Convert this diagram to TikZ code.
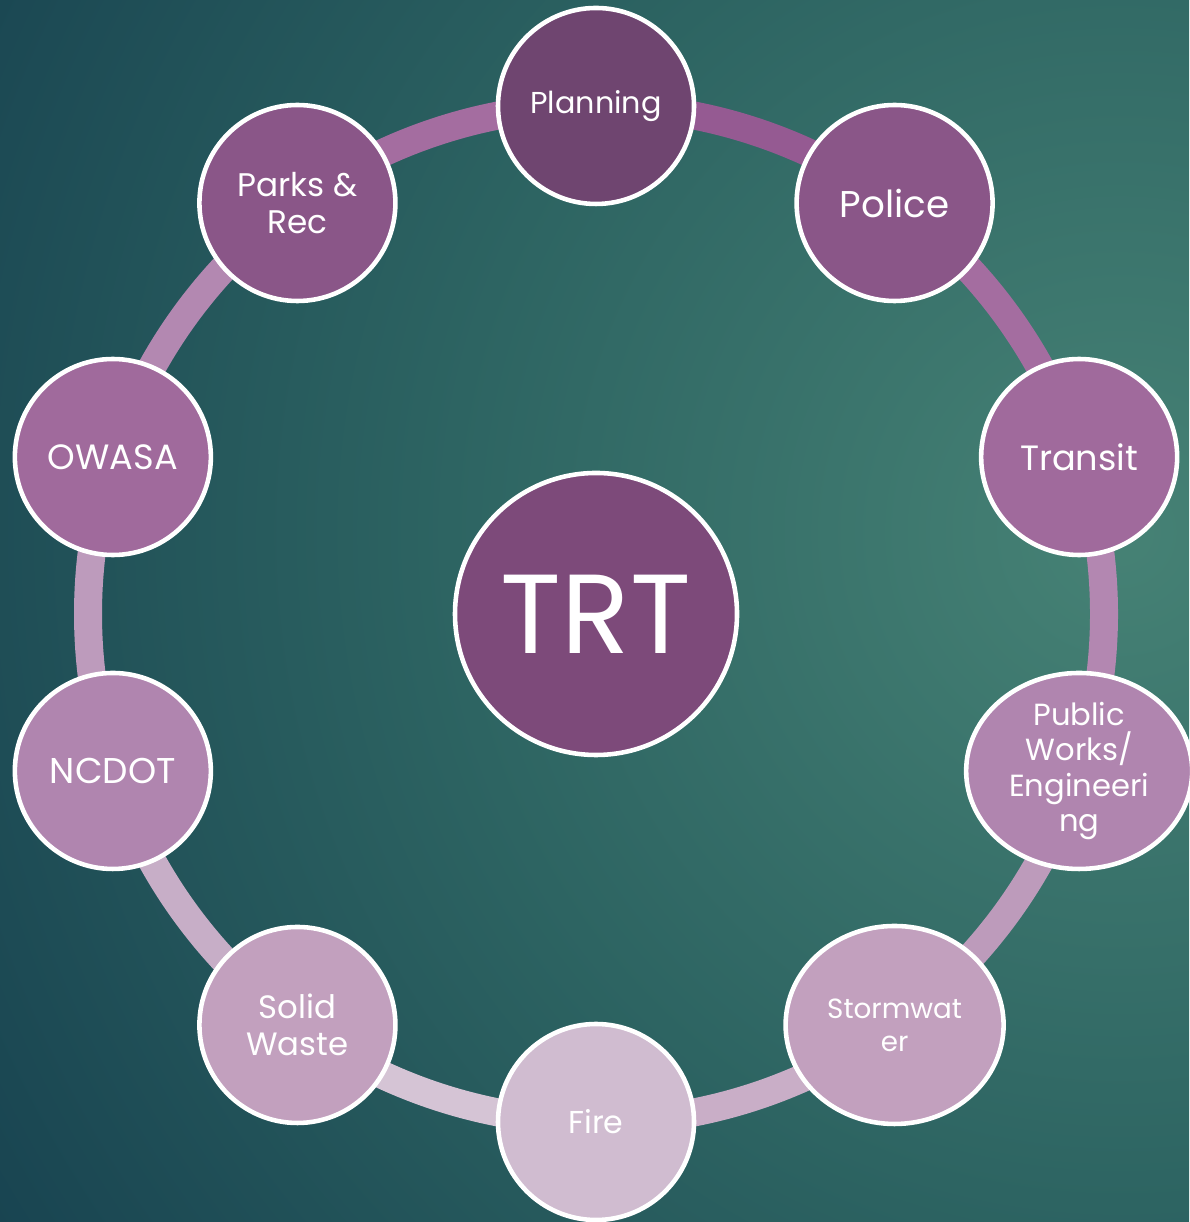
\documentclass[tikz,border=0pt]{standalone}
\usepackage{fontspec}
\setmainfont{Poppins}
\usetikzlibrary{shapes.geometric}

\definecolor{bgdark}{HTML}{16404F}
\definecolor{bgmid}{HTML}{2D6462}
\definecolor{bglight}{HTML}{468275}
\definecolor{trtfill}{HTML}{7D4A7A}
\definecolor{teamA}{HTML}{6F4570}
\definecolor{teamB}{HTML}{8A5688}
\definecolor{teamC}{HTML}{A06A9C}
\definecolor{teamD}{HTML}{B085AF}
\definecolor{teamE}{HTML}{C2A0BE}
\definecolor{teamF}{HTML}{D0BCD0}

\pgfdeclareradialshading{tealglow}{\pgfpoint{0bp}{0bp}}{color(0bp)=(bglight);
  color(12bp)=(bgmid); color(25bp)=(bgdark); color(50bp)=(bgdark)}

\tikzset{
  team/.style={circle, draw=white, line width=1.3pt, minimum size=1.96cm,
    inner sep=0pt, text=white, align=center},
  teamoval/.style={team, ellipse},
  link/.style={line width=0.28cm},
}

\begin{document}
\begin{tikzpicture}
\useasboundingbox (0,0) rectangle (11.89,12.22);
\begin{scope}
  \clip (0,0) rectangle (11.89,12.22);
  \shade[shading=tealglow] (11.2,6.9) circle (14);
\end{scope}

\begin{scope}[shift={(5.96,6.08)}]
% ring
\foreach \a/\col in {90/955A92, 54/A46DA0, 18/B387B1, -18/BD9BBB, -54/C9AEC7,
                     -90/D5C4D5, -126/C7AEC7, -162/BD9BBC, 162/B388B1, 126/A46DA0} {
  \definecolor{segcol}{HTML}{\col}
  \draw[link, draw=segcol] (\a:5.08) arc[start angle=\a, end angle=\a-36, radius=5.08];
}

\node[team, fill=trtfill, minimum size=2.82cm, font=\fontsize{32}{32}\selectfont] (trt) at (0,0) {TRT};

\node[team, fill=teamA, font=\fontsize{8.6}{10}\selectfont] (planning) at (90:5.08) {Planning};
\node[team, fill=teamB, font=\fontsize{10.6}{12}\selectfont] (police) at (54:5.08) {Police};
\node[team, fill=teamC, font=\fontsize{10}{12}\selectfont] (transit) at (18:5.08) {Transit};
\node[teamoval, fill=teamD, minimum width=2.26cm, minimum height=1.96cm,
      font=\fontsize{8.7}{10}\selectfont] (works) at (-18:5.08) {Public\\Works/\\Engineeri\\ng};
\node[teamoval, fill=teamE, minimum width=2.18cm, minimum height=1.98cm,
      font=\fontsize{7.9}{9.4}\selectfont] (storm) at (-54:5.08) {Stormwat\\er};
\node[team, fill=teamF, font=\fontsize{9}{11}\selectfont] (fire) at (-90:5.08) {Fire};
\node[team, fill=teamE, font=\fontsize{9.2}{10.6}\selectfont] (waste) at (-126:5.08) {Solid\\Waste};
\node[team, fill=teamD, font=\fontsize{10.2}{11}\selectfont] (ncdot) at (-162:5.08) {NCDOT};
\node[team, fill=teamC, font=\fontsize{10}{11}\selectfont] (owasa) at (162:5.08) {OWASA};
\node[team, fill=teamB, font=\fontsize{9.3}{10.6}\selectfont] (parks) at (126:5.08) {Parks \&\\Rec};
\end{scope}
\end{tikzpicture}
\end{document}
